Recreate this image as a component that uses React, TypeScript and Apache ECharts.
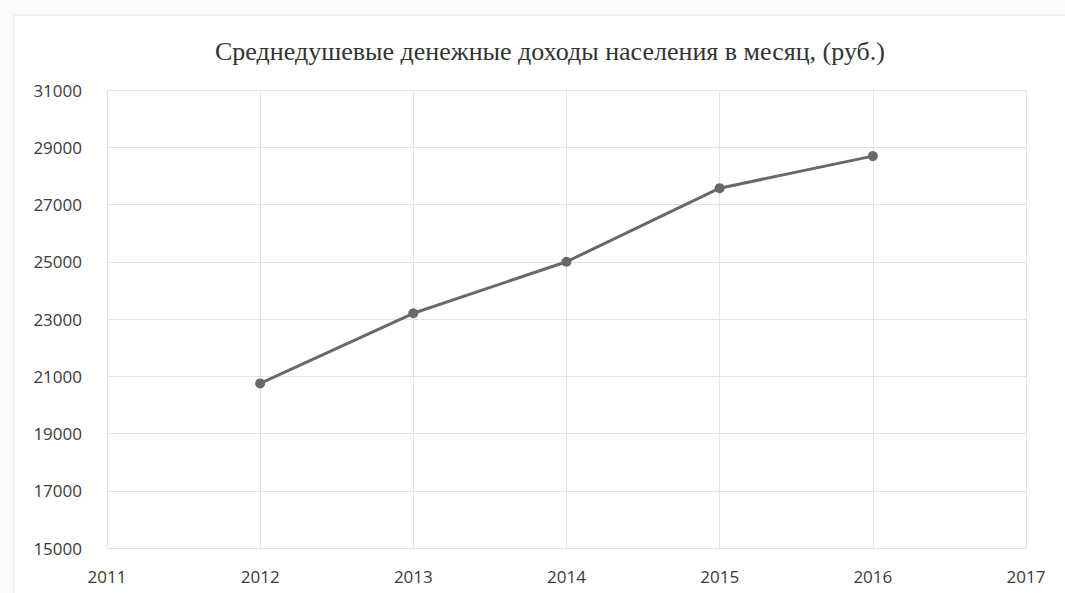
import React, { useEffect, useRef } from "react";
import * as echarts from "echarts";

const title = "Среднедушевые денежные доходы населения в месяц, (руб.)";
const years = [2012, 2013, 2014, 2015, 2016];
const incomes = [20750, 23200, 25000, 27570, 28690];
const yTicks = [15000, 17000, 19000, 21000, 23000, 25000, 27000, 29000, 31000];
const xTicks = [2011, 2012, 2013, 2014, 2015, 2016, 2017];

export default function App() {
  const ref = useRef<HTMLDivElement>(null);
  useEffect(() => {
    if (!ref.current) return;
    const chart = echarts.init(ref.current, null, { renderer: "svg" });
    chart.setOption({
      animation: false,
      backgroundColor: "#fbfbfb",
      graphic: [
        {
          type: "rect",
          z: -10,
          shape: { x: 14, y: 15, width: 1080, height: 600 },
          style: { fill: "#ffffff", stroke: "#e6e6e6", lineWidth: 1 },
        },
      ],
      title: {
        text: title,
        left: 545,
        textAlign: "center",
        top: 33,
        textStyle: {
          fontFamily: "Liberation Serif",
          fontWeight: "normal",
          fontSize: 26,
          color: "#333",
        },
      },
      grid: { left: 107, right: 39, top: 90, bottom: 45 },
      xAxis: {
        type: "value",
        min: xTicks[0],
        max: xTicks[xTicks.length - 1],
        interval: 1,
        axisLine: { show: false },
        axisTick: { show: false },
        splitLine: { show: true, lineStyle: { color: "#e4e4e4", width: 1 } },
        axisLabel: {
          formatter: (v: number) => String(v),
          fontFamily: "Open Sans",
          fontSize: 17,
          color: "#3a3a3a",
          margin: 20,
        },
      },
      yAxis: {
        type: "value",
        min: yTicks[0],
        max: yTicks[yTicks.length - 1],
        interval: 2000,
        axisLine: { show: false },
        axisTick: { show: false },
        splitLine: { show: true, lineStyle: { color: "#e4e4e4", width: 1 } },
        axisLabel: {
          formatter: (v: number) => String(v),
          fontFamily: "Open Sans",
          fontSize: 17,
          color: "#3a3a3a",
          margin: 25,
        },
      },
      series: [
        {
          type: "line",
          data: years.map((y, i) => [y, incomes[i]]),
          symbol: "circle",
          symbolSize: 10,
          lineStyle: { color: "#696969", width: 3 },
          itemStyle: { color: "#696969" },
        },
      ],
    });
    return () => chart.dispose();
  }, []);
  return (
    <div
      ref={ref}
      style={{ position: "absolute", left: 0, top: 0, width: 1065, height: 593 }}
    />
  );
}
